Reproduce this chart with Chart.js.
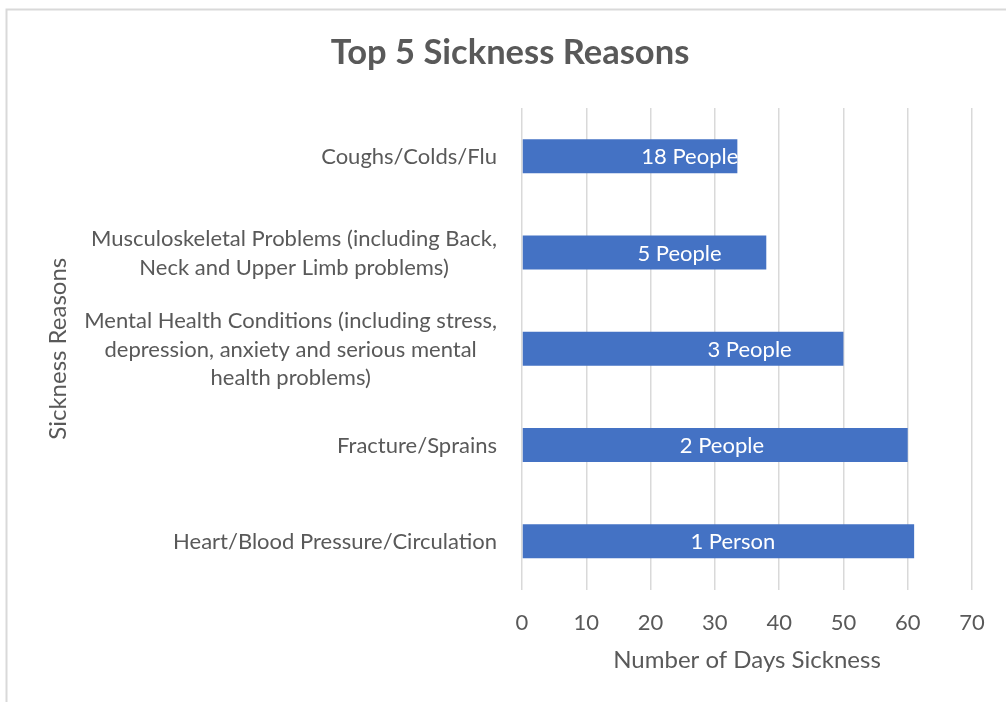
<!DOCTYPE html>
<html>
<head>
<meta charset="utf-8">
<script src="https://cdn.jsdelivr.net/npm/chart.js@4"></script>
<style>
  html, body { margin: 0; padding: 0; background: #ffffff; }
  #wrap { width: 1006px; height: 702px; position: relative; }
</style>
</head>
<body>
<div id="wrap"><canvas id="chart" width="1006" height="702"></canvas></div>
<script>
// ---- chart data ----
const chartTitle = 'Top 5 Sickness Reasons';
const xAxisTitle = 'Number of Days Sickness';
const yAxisTitle = 'Sickness Reasons';
const categories = [
  ['Coughs/Colds/Flu'],
  ['Musculoskeletal Problems (including Back,', 'Neck and Upper Limb problems)'],
  ['Mental Health Conditions (including stress,', 'depression, anxiety and serious mental', 'health problems)'],
  ['Fracture/Sprains'],
  ['Heart/Blood Pressure/Circulation']
];
const daysSick = [33.5, 38, 50, 60, 61];
const peopleLabels = ['18 People', '5 People', '3 People', '2 People', '1 Person'];
// where each bar's label sits, in days along the axis
const peopleLabelAt = [26.1, 24.5, 35.4, 31.1, 32.8];
const xTickValues = [0, 10, 20, 30, 40, 50, 60, 70];

// ---- styling ----
const FONT = 'Lato';
const TEXT = '#595959';
const GRID = '#d9d9d9';
const BAR = '#4472C4';
const TICK_SIZE = 22;
const AXIS_TITLE_SIZE = 24;
const TITLE_SIZE = 34.5;

const textPlugin = {
  id: 'textPlugin',
  beforeDraw(chart) {
    const ctx = chart.ctx;
    ctx.save();
    ctx.strokeStyle = GRID;
    ctx.lineWidth = 2;
    ctx.beginPath();
    ctx.moveTo(6.5, 702);
    ctx.lineTo(6.5, 9.5);
    ctx.lineTo(1006, 9.5);
    ctx.stroke();
    ctx.restore();
  },
  afterDatasetsDraw(chart) {
    const ctx = chart.ctx;
    const xs = chart.scales.x;
    const meta = chart.getDatasetMeta(0);
    ctx.save();
    ctx.fillStyle = '#ffffff';
    ctx.font = `${TICK_SIZE}px ${FONT}`;
    ctx.textAlign = 'center';
    ctx.textBaseline = 'middle';
    meta.data.forEach((bar, i) => {
      ctx.fillText(peopleLabels[i], xs.getPixelForValue(peopleLabelAt[i]), bar.y + 1);
    });
    ctx.restore();
  },
  afterDraw(chart) {
    const ctx = chart.ctx;
    const ys = chart.scales.y;
    const area = chart.chartArea;
    ctx.save();
    // chart title
    ctx.fillStyle = TEXT;
    ctx.font = `bold ${TITLE_SIZE}px ${FONT}`;
    ctx.textAlign = 'center';
    ctx.textBaseline = 'alphabetic';
    ctx.fillText(chartTitle, 510, 64);
    // category labels: block right-aligned to the axis, lines centred in the block
    ctx.font = `${TICK_SIZE}px ${FONT}`;
    ctx.textBaseline = 'middle';
    const lineH = 28.5;
    const right = area.left - 25;
    categories.forEach((lines, i) => {
      const cy = ys.getPixelForValue(i) + 1;
      const blockW = Math.max(...lines.map(l => ctx.measureText(l).width));
      const cx = right - blockW / 2;
      const y0 = cy - (lines.length - 1) * lineH / 2;
      lines.forEach((l, k) => ctx.fillText(l, cx, y0 + k * lineH));
    });
    ctx.restore();
  }
};

new Chart(document.getElementById('chart'), {
  type: 'bar',
  data: {
    labels: categories.map(c => c.join(' ')),
    datasets: [{
      data: daysSick,
      backgroundColor: BAR,
      borderWidth: 0,
      categoryPercentage: 1,
      barPercentage: 0.353
    }]
  },
  options: {
    indexAxis: 'y',
    responsive: false,
    animation: false,
    devicePixelRatio: 1,
    layout: { padding: { top: 108, left: 30, right: 34, bottom: 0 } },
    plugins: {
      legend: { display: false },
      title: { display: false },
      tooltip: { enabled: false }
    },
    scales: {
      x: {
        min: 0,
        max: 70,
        afterBuildTicks: s => { s.ticks = xTickValues.map(v => ({ value: v })); },
        ticks: { color: TEXT, font: { family: FONT, size: TICK_SIZE }, padding: 20 },
        grid: { color: GRID, lineWidth: 1.5, drawTicks: false },
        border: { display: false },
        title: {
          display: true, text: xAxisTitle, color: TEXT,
          font: { family: FONT, size: AXIS_TITLE_SIZE },
          padding: { top: 0, bottom: 27.6 }
        },
        afterFit: s => { s.height = 112.5; }
      },
      y: {
        ticks: { display: false },
        grid: { display: false },
        border: { display: false },
        title: {
          display: true, text: yAxisTitle, color: TEXT,
          font: { family: FONT, size: AXIS_TITLE_SIZE },
          padding: { top: 13.6, bottom: 0 }
        },
        afterFit: s => { s.width = 492; }
      }
    }
  },
  plugins: [textPlugin]
});
</script>
</body>
</html>
